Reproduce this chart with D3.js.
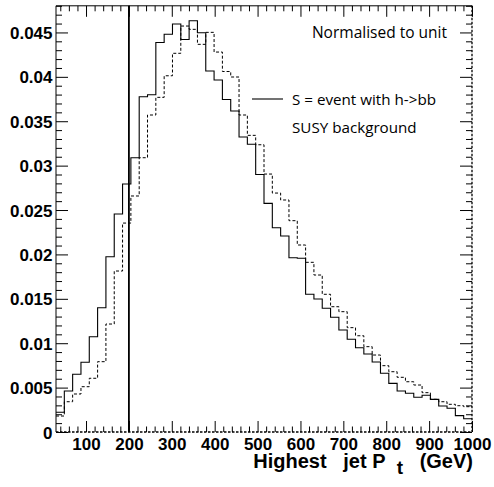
<!DOCTYPE html>
<html>
<head>
<meta charset="utf-8">
<script src="https://cdn.jsdelivr.net/npm/d3@7"></script>
<style>
  html, body { margin: 0; padding: 0; background: #fff; }
  svg { display: block; }
</style>
</head>
<body>
<svg id="chart" width="494" height="487"></svg>
<script>
// ---- data ----
const xRange = [30, 1000];
const yRange = [0, 0.048];
const xTickValues = [100, 200, 300, 400, 500, 600, 700, 800, 900, 1000];
const yTickValues = [0, 0.005, 0.01, 0.015, 0.02, 0.025, 0.03, 0.035, 0.04, 0.045];
const yTickLabels = ["0", "0.005", "0.01", "0.015", "0.02", "0.025", "0.03", "0.035", "0.04", "0.045"];
const cutValue = 200;

// S = event with h->bb (solid)
const signal = [
  0.00222, 0.00462, 0.0065, 0.00785, 0.01073, 0.0140, 0.01974, 0.02455, 0.02793, 0.03089,
  0.03776, 0.03799, 0.04386, 0.04479, 0.04595, 0.0442, 0.04632, 0.04497, 0.04065, 0.03964,
  0.03745, 0.03615, 0.03322, 0.03241, 0.0290, 0.02575, 0.02301, 0.02207, 0.01963, 0.01956,
  0.01551, 0.01498, 0.01393, 0.01292, 0.01149, 0.01044, 0.00949, 0.00878, 0.00788, 0.00661,
  0.00548, 0.00462, 0.00436, 0.00391, 0.00414, 0.00368, 0.00293, 0.00268, 0.00184, 0.00149
];
// SUSY background (dashed)
const background = [
  0.0018, 0.00341, 0.00428, 0.0051, 0.00605, 0.00792, 0.01216, 0.01813, 0.02353, 0.02658,
  0.03089, 0.0357, 0.03769, 0.04012, 0.04265, 0.04572, 0.04535, 0.04366, 0.04501, 0.04279,
  0.0406, 0.03998, 0.0357, 0.03341, 0.03235, 0.02905, 0.02691, 0.02613, 0.0238, 0.02106,
  0.01911, 0.01768, 0.01551, 0.01411, 0.01355, 0.01175, 0.01084, 0.00961, 0.00867, 0.00747,
  0.00679, 0.00616, 0.00566, 0.00529, 0.00443, 0.00368, 0.00341, 0.00312, 0.00296, 0.00285
];
const legendLabels = ["S = event with h->bb", "SUSY background"];
const noteText = "Normalised to unit";

// ---- layout ----
const svg = d3.select("#chart");
const L = 56, R = 472, T = 5.8, B = 432;

const x = d3.scaleLinear().domain(xRange).range([L, R]);
const y = d3.scaleLinear().domain(yRange).range([B, T]);

const nBins = signal.length;
const binW = (xRange[1] - xRange[0]) / nBins;
function stepPoints(vals) {
  const pts = vals.map((v, i) => [xRange[0] + i * binW, v]);
  pts.push([xRange[1], vals[vals.length - 1]]);
  return pts;
}
const line = d3.line().x(d => x(d[0])).y(d => y(d[1])).curve(d3.curveStepAfter);

// histograms
svg.append("path").attr("d", line(stepPoints(background)))
  .attr("fill", "none").attr("stroke", "#000").attr("stroke-width", 1)
  .attr("stroke-dasharray", "3,2");
svg.append("path").attr("d", line(stepPoints(signal)))
  .attr("fill", "none").attr("stroke", "#000").attr("stroke-width", 1.1);

// cut line
svg.append("line")
  .attr("x1", x(cutValue)).attr("x2", x(cutValue))
  .attr("y1", y(yRange[0])).attr("y2", y(yRange[1]))
  .attr("stroke", "#000").attr("stroke-width", 1.8);

// frame
svg.append("line").attr("x1", L).attr("x2", L).attr("y1", T).attr("y2", B)
  .attr("stroke", "#000").attr("stroke-width", 1);
svg.append("line").attr("x1", L).attr("x2", R).attr("y1", T).attr("y2", T)
  .attr("stroke", "#000").attr("stroke-width", 1);
svg.append("line").attr("x1", R).attr("x2", R).attr("y1", T).attr("y2", B)
  .attr("stroke", "#000").attr("stroke-width", 1.3).attr("stroke-dasharray", "2.5,1.5");
svg.append("line").attr("x1", L).attr("x2", R).attr("y1", B).attr("y2", B)
  .attr("stroke", "#000").attr("stroke-width", 1.5).attr("stroke-dasharray", "2.5,1.5");

// x ticks (bottom & top), inward
const xMinor = d3.range(40, 1000, 20).filter(v => v % 100 !== 0);
const bottomMajor = d3.axisBottom(x).tickValues(xTickValues).tickSize(-11).tickFormat(d3.format("d"));
const gx = svg.append("g").attr("transform", `translate(0,${B})`).call(bottomMajor);
gx.select(".domain").remove();
gx.selectAll("text").attr("font-family", "'Liberation Sans', Arial, sans-serif")
  .attr("font-weight", "bold").attr("font-size", 17).attr("fill", "#000").attr("dy", "0").attr("y", 17.5);
gx.selectAll("line").attr("stroke", "#000");

const gxm = svg.append("g").attr("transform", `translate(0,${B})`)
  .call(d3.axisBottom(x).tickValues(xMinor).tickSize(-5.5).tickFormat(""));
gxm.select(".domain").remove();
gxm.selectAll("text").remove();

const gxt = svg.append("g").attr("transform", `translate(0,${T})`)
  .call(d3.axisTop(x).tickValues(xTickValues).tickSize(-11).tickFormat(""));
gxt.select(".domain").remove();
gxt.selectAll("text").remove();
const gxtm = svg.append("g").attr("transform", `translate(0,${T})`)
  .call(d3.axisTop(x).tickValues(xMinor).tickSize(-5.5).tickFormat(""));
gxtm.select(".domain").remove();
gxtm.selectAll("text").remove();

// y ticks (left & right), inward
const yMinor = d3.range(1, 49).map(i => i * 0.001).filter(v => Math.abs((v / 0.005) - Math.round(v / 0.005)) > 1e-6);
const gy = svg.append("g").attr("transform", `translate(${L},0)`)
  .call(d3.axisLeft(y).tickValues(yTickValues).tickSize(-12).tickFormat((d, i) => yTickLabels[i]));
gy.select(".domain").remove();
gy.selectAll("text").attr("font-family", "'Liberation Sans', Arial, sans-serif")
  .attr("font-weight", "bold").attr("font-size", 17).attr("fill", "#000").attr("x", -3.5).attr("dy", "0.36em");
const gym = svg.append("g").attr("transform", `translate(${L},0)`)
  .call(d3.axisLeft(y).tickValues(yMinor).tickSize(-6).tickFormat(""));
gym.select(".domain").remove();
gym.selectAll("text").remove();

const gyr = svg.append("g").attr("transform", `translate(${R},0)`)
  .call(d3.axisRight(y).tickValues(yTickValues).tickSize(-12).tickFormat(""));
gyr.select(".domain").remove();
gyr.selectAll("text").remove();
const gyrm = svg.append("g").attr("transform", `translate(${R},0)`)
  .call(d3.axisRight(y).tickValues(yMinor).tickSize(-6).tickFormat(""));
gyrm.select(".domain").remove();
gyrm.selectAll("text").remove();

svg.selectAll(".tick line").attr("stroke", "#000").attr("stroke-width", 1);

// x axis title
const title = svg.append("text")
  .attr("x", 473).attr("y", 468)
  .attr("text-anchor", "end")
  .attr("font-family", "'Liberation Sans', Arial, sans-serif")
  .attr("font-weight", "bold").attr("font-size", 20);
title.append("tspan").text("Highest\u00a0\u00a0 jet P\u00a0\u00a0");
title.append("tspan").attr("dy", 6).attr("font-size", 19).text("t");
title.append("tspan").attr("dy", -6).text("\u00a0\u00a0\u00a0(GeV)");

// annotation
svg.append("text").attr("x", 447).attr("y", 38).attr("text-anchor", "end")
  .attr("font-family", "'Open Sans', 'Noto Sans', sans-serif").attr("font-size", 15.5)
  .attr("fill", "#000").text(noteText);

// legend
svg.append("line").attr("x1", 252).attr("x2", 283).attr("y1", 99).attr("y2", 99)
  .attr("stroke", "#000").attr("stroke-width", 1.1);
svg.append("text").attr("x", 292).attr("y", 105)
  .attr("font-family", "'Open Sans', 'Noto Sans', sans-serif").attr("font-size", 15.2)
  .attr("fill", "#000").text(legendLabels[0]);
svg.append("text").attr("x", 292).attr("y", 133)
  .attr("font-family", "'Open Sans', 'Noto Sans', sans-serif").attr("font-size", 15.2)
  .attr("fill", "#000").text(legendLabels[1]);
</script>
</body>
</html>
